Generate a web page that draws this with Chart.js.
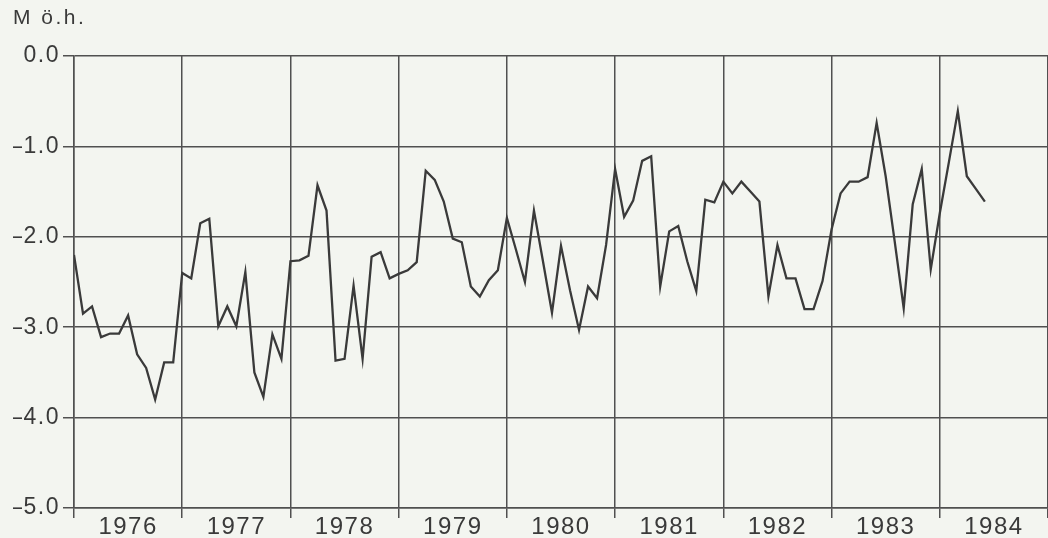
<!DOCTYPE html>
<html>
<head>
<meta charset="utf-8">
<script src="https://cdn.jsdelivr.net/npm/chart.js@4/dist/chart.umd.min.js"></script>
<style>
  html, body { margin: 0; padding: 0; background: #f3f5f0; }
  canvas { display: block; background: #f3f5f0; }
</style>
</head>
<body>
<canvas id="c" width="1048" height="538"></canvas>
<script>
// Monthly values (M ö.h.), Jan 1976 – Jun 1984
const years = ['1976','1977','1978','1979','1980','1981','1982','1983','1984'];
const v1976 = [-2.20,-2.85,-2.77,-3.11,-3.07,-3.07,-2.87,-3.30,-3.45,-3.80,-3.39,-3.39];
const v1977 = [-2.40,-2.46,-1.85,-1.80,-2.99,-2.77,-2.99,-2.39,-3.50,-3.77,-3.08,-3.35];
const v1978 = [-2.27,-2.26,-2.21,-1.43,-1.71,-3.37,-3.35,-2.54,-3.35,-2.22,-2.17,-2.46];
const v1979 = [-2.41,-2.37,-2.28,-1.27,-1.37,-1.61,-2.02,-2.06,-2.55,-2.66,-2.48,-2.37];
const v1980 = [-1.79,-2.14,-2.50,-1.71,-2.27,-2.84,-2.10,-2.59,-3.03,-2.55,-2.68,-2.09];
const v1981 = [-1.25,-1.78,-1.60,-1.16,-1.11,-2.55,-1.94,-1.88,-2.27,-2.60,-1.59,-1.62];
const v1982 = [-1.39,-1.52,-1.39,-1.50,-1.61,-2.66,-2.09,-2.46,-2.46,-2.80,-2.80,-2.49];
const v1983 = [-1.92,-1.52,-1.39,-1.39,-1.34,-0.74,-1.33,-2.05,-2.79,-1.64,-1.25,-2.36];
const v1984 = [-1.74,-1.18,-0.61,-1.33,-1.47,-1.61];
const yTicks = [0,-1,-2,-3,-4,-5];
const yUnit = 'M ö.h.';

const values = [].concat(v1976,v1977,v1978,v1979,v1980,v1981,v1982,v1983,v1984);
const points = values.map((v,i) => ({x:i, y:v}));

const ink = '#3a3a3a';
const gridInk = '#505050';

function withSpacing(obj, method, spacing) {
  const orig = obj[method];
  obj[method] = function(...args) {
    const ctx = this.ctx;
    ctx.save();
    ctx.letterSpacing = spacing;
    const r = orig.apply(this, args);
    ctx.restore();
    return r;
  };
}

const spacing = {
  id: 'spacing',
  beforeDraw(chart) {
    if (chart._spaced) return;
    withSpacing(chart.scales.x, 'drawLabels', '1.5px');
    withSpacing(chart.scales.y, 'drawLabels', '1.5px');
    withSpacing(chart.titleBlock, 'draw', '2.5px');
    chart._spaced = true;
  }
};

new Chart(document.getElementById('c'), {
  type: 'line',
  data: {
    datasets: [{
      data: points,
      borderColor: ink,
      borderWidth: 2.3,
      pointRadius: 0,
      tension: 0,
      fill: false
    }]
  },
  plugins: [spacing],
  options: {
    responsive: false,
    animation: false,
    layout: { padding: { left: 13, right: 0, top: 0, bottom: 0 } },
    plugins: {
      legend: { display: false },
      tooltip: { enabled: false },
      title: {
        display: true,
        text: yUnit,
        align: 'start',
        color: ink,
        font: { family: 'Liberation Sans', size: 21, weight: 'normal' },
        padding: { top: 6, bottom: 24.8 }
      }
    },
    scales: {
      x: {
        type: 'linear',
        min: 0,
        max: years.length * 12,
        afterBuildTicks(scale) {
          const t = [];
          for (let m = 0; m <= years.length * 12; m += 6) t.push({ value: m });
          scale.ticks = t;
        },
        afterFit(scale) { scale.height = 30; },
        border: { display: true, color: gridInk, width: 1.5 },
        grid: {
          color: ctx => (ctx.tick && ctx.tick.value % 12 === 0) ? gridInk : 'rgba(0,0,0,0)',
          tickColor: ctx => (ctx.tick && ctx.tick.value % 12 === 0) ? gridInk : 'rgba(0,0,0,0)',
          lineWidth: 1.5,
          tickLength: 10,
          drawTicks: true
        },
        ticks: {
          autoSkip: false,
          maxRotation: 0,
          padding: -5,
          color: ink,
          font: { family: 'Liberation Sans', size: 24 },
          callback: v => (v % 12 === 6) ? years[(v - 6) / 12] : ''
        }
      },
      y: {
        min: -5,
        max: 0,
        afterBuildTicks(scale) { scale.ticks = yTicks.map(v => ({ value: v })); },
        afterFit(scale) { scale.width = 61; },
        border: { display: true, color: gridInk, width: 1.5 },
        grid: {
          color: gridInk,
          lineWidth: 1.5,
          tickLength: 11,
          tickColor: gridInk
        },
        ticks: {
          padding: 3,
          color: ink,
          font: { family: 'Liberation Sans', size: 23 },
          callback: v => v === 0 ? '0.0' : '\u2013' + Math.abs(v).toFixed(1)
        }
      }
    }
  }
});
</script>
</body>
</html>
